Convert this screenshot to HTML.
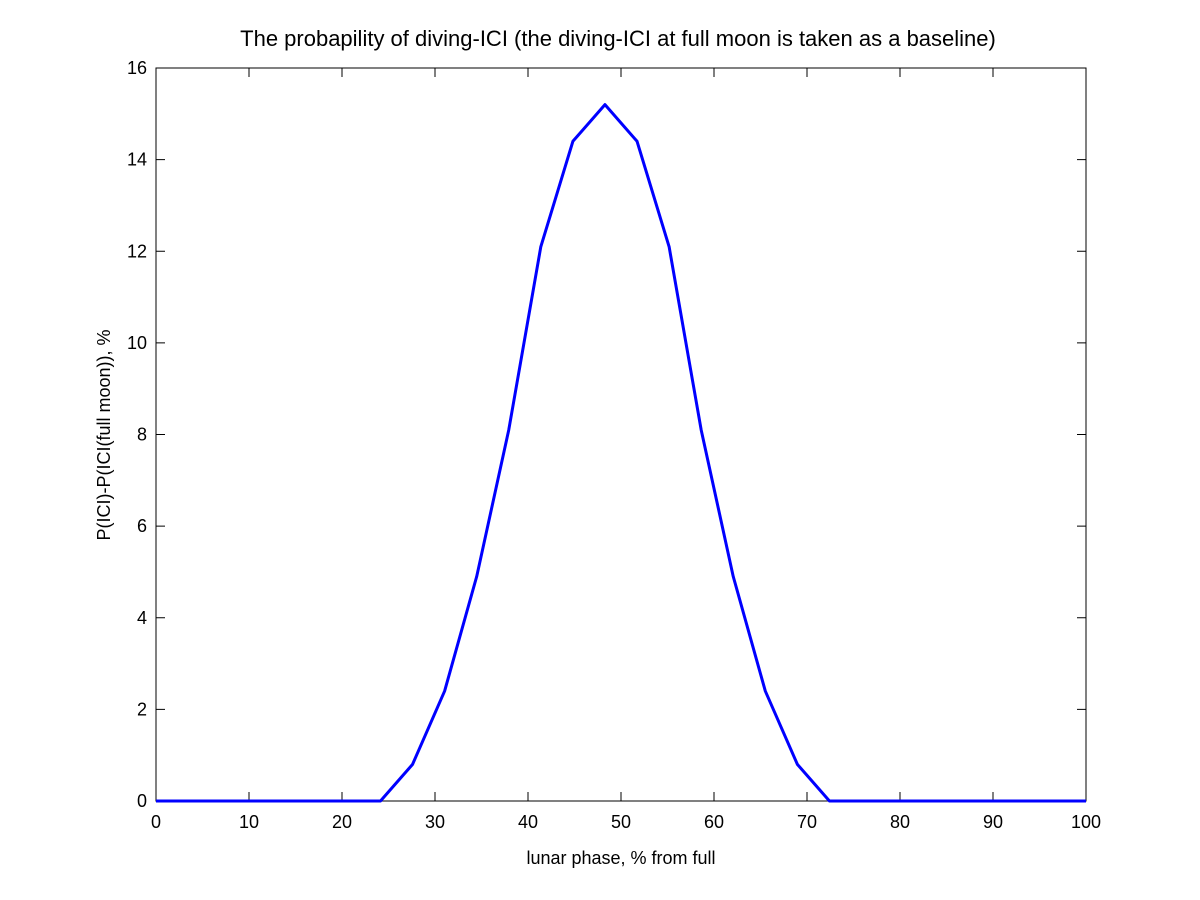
<!DOCTYPE html>
<html><head><meta charset="utf-8"><style>
body{margin:0;background:#fff;}
svg{display:block;font-family:"Liberation Sans",sans-serif;}
</style></head><body>
<svg id="chart" width="1200" height="900">
<rect x="0" y="0" width="1200" height="900" fill="#fff"/>
<text x="618" y="46" font-size="22" text-anchor="middle">The probapility of diving-ICI (the diving-ICI at full moon is taken as a baseline)</text>
<rect x="156" y="68" width="930" height="733" fill="none" stroke="#000" stroke-width="1"/>
<g id="xticks"></g>
<g id="yticks"></g>
<text x="621" y="864" font-size="18" text-anchor="middle">lunar phase, % from full</text>
<text transform="translate(110,435) rotate(-90)" font-size="18" text-anchor="middle">P(ICI)-P(ICI(full moon)), %</text>
<polyline id="line" fill="none" stroke="#0000ff" stroke-width="3" stroke-linejoin="round"/>
</svg>
<script>
const xValues = [0,3.448,6.897,10.345,13.793,17.241,20.69,24.138,27.586,31.034,34.483,37.931,41.379,44.828,48.276,51.724,55.172,58.621,62.069,65.517,68.966,72.414,75.862,79.31,82.759,86.207,89.655,93.103,96.552,100];
const yValues = [0,0,0,0,0,0,0,0,0.8,2.4,4.9,8.1,12.1,14.4,15.2,14.4,12.1,8.1,4.9,2.4,0.8,0,0,0,0,0,0,0,0,0];
const xTicks = [0,10,20,30,40,50,60,70,80,90,100];
const yTicks = [0,2,4,6,8,10,12,14,16];
const X0=156,X1=1086,Y0=801,Y1=68;
const sx=v=>X0+(v-0)/100*(X1-X0);
const sy=v=>Y0-(v-0)/16*(Y0-Y1);
const NS="http://www.w3.org/2000/svg";
const xg=document.getElementById('xticks'), yg=document.getElementById('yticks');
function mk(t,a){const e=document.createElementNS(NS,t);for(const k in a)e.setAttribute(k,a[k]);return e;}
xTicks.forEach(t=>{
  const x=sx(t);
  const l1=mk('line',{x1:x,x2:x,y1:Y0,y2:Y0-9,stroke:'#000'});
  
  
  const l2=mk('line',{x1:x,x2:x,y1:Y1,y2:Y1+9,stroke:'#000'});
  
  
  const tx=mk('text',{x:x,y:Y0+27,'font-size':18,'text-anchor':'middle'});
  tx.textContent=t;
  
  
  xg.append(l1,l2,tx);
});
yTicks.forEach(t=>{
  const y=sy(t);
  const l1=mk('line',{x1:X0,x2:X0+9,y1:y,y2:y,stroke:'#000'});
  
  
  const l2=mk('line',{x1:X1,x2:X1-9,y1:y,y2:y,stroke:'#000'});
  
  
  const tx=mk('text',{x:X0-9,y:y+6,'font-size':18,'text-anchor':'end'});
  tx.textContent=t;
  
  
  yg.append(l1,l2,tx);
});
document.getElementById('line').setAttribute('points',xValues.map((v,i)=>sx(v)+','+sy(yValues[i])).join(' '));
</script>
</body></html>
